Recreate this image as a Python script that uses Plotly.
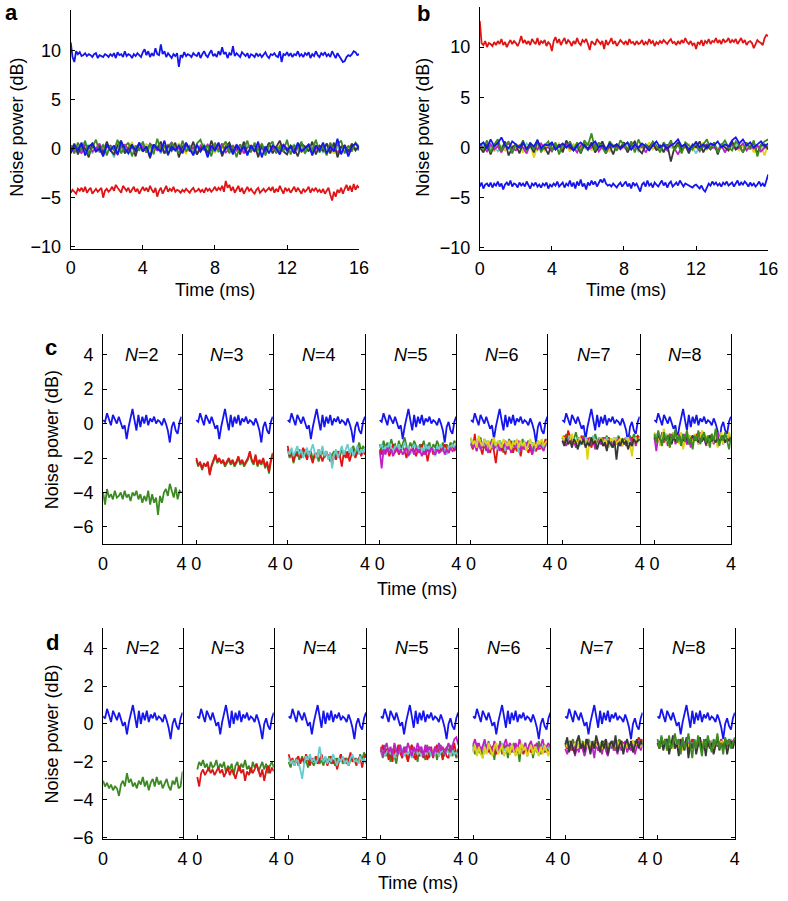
import numpy as np
import plotly.graph_objects as go

W, H = 788, 901
FONT = "Liberation Sans, Arial, Helvetica, sans-serif"
FS = 18
COL = {"b": "#1515ee", "g": "#3c8a22", "r": "#e01414", "c": "#66cccc",
       "m": "#c020c8", "y": "#dcd414", "k": "#383838"}

# ---------------- Panel a (0-16 ms) ----------------
a_blue_top = [10.8, 9.3, 8.8, 9.9, 9.6, 9.8, 9.4, 9.5, 9.7, 9.4,
              9.6, 9.5, 9.3, 9.6, 9.7, 9.2, 9.5, 9.4, 9.3, 9.6,
              9.5, 9.3, 9.6, 9.4, 9.7, 9.2, 9.8, 9.5, 9.6, 9.3,
              9.9, 9.4, 9.6, 9.5, 9.2, 9.6, 9.4, 9.7, 9.5, 9.3,
              9.8, 10.1, 9.5, 9.9, 9.3, 9.7, 9.4, 10.2, 9.6, 9.5,
              10.6, 9.6, 9.9, 9.3, 9.7, 9.5, 9.2, 9.6, 9.4, 9.7,
              8.3, 9.5, 9.3, 9.8, 9.4, 9.6, 9.5, 9.3, 9.7, 9.5,
              9.4, 9.8, 9.2, 9.6, 9.9, 9.5, 9.3, 9.7, 10.0, 9.4,
              9.6, 9.3, 9.9, 9.5, 10.3, 9.6, 9.8, 9.2, 9.7, 9.5,
              10.4, 9.4, 9.7, 9.5, 9.3, 9.8, 9.6, 9.4, 9.7, 9.2,
              9.6, 9.5, 9.3, 9.7, 9.4, 9.6, 9.3, 9.5, 9.8, 9.4,
              9.2, 9.6, 9.5, 9.7, 9.4, 9.3, 9.9, 8.8, 9.6, 9.5,
              9.8, 9.4, 9.7, 9.3, 9.6, 9.5, 9.9, 9.4, 9.6, 9.3,
              9.7, 9.5, 9.8, 9.2, 9.6, 9.4, 9.9, 9.5, 9.3, 9.7,
              9.5, 9.8, 9.4, 9.6, 9.3, 9.9, 9.5, 9.2, 9.7, 9.4,
              9.0, 8.8, 8.9, 9.3, 9.5, 9.4, 9.6, 9.9, 9.8, 9.5,
              9.6]
a_red = [-4.5, -4.2, -4.4, -4.6, -4.1, -4.3, -4.0, -4.4, -3.9, -4.5,
         -4.2, -4.0, -4.6, -4.3, -4.1, -4.4, -4.2, -4.0, -5.0, -4.3,
         -4.1, -4.4, -4.2, -3.9, -4.3, -3.7, -4.0, -4.2, -4.5, -3.8,
         -4.1, -4.3, -4.0, -4.5, -4.2, -3.9, -4.4, -4.1, -4.6, -4.2,
         -3.9, -4.3, -4.0, -4.4, -3.8, -4.2, -4.5, -4.0, -4.9, -4.3,
         -4.0, -4.6, -4.2, -3.8, -4.4, -4.1, -4.3, -3.9, -4.4, -4.2,
         -4.3, -4.5, -4.2, -4.4, -4.1, -4.3, -4.5, -4.2, -4.0, -4.4,
         -4.3, -4.1, -4.4, -4.2, -4.5, -4.0, -4.3, -4.1, -4.4, -4.2,
         -3.9, -4.3, -4.0, -4.2, -3.8, -4.4, -3.3, -4.0, -3.7, -4.3,
         -3.9, -4.5, -4.1, -3.8, -4.4, -4.0, -4.6, -4.2, -3.9, -4.3,
         -4.1, -4.4, -4.6, -4.2, -4.0, -4.5, -4.3, -4.1, -4.4, -4.2,
         -4.0, -4.3, -3.9, -4.5, -4.1, -4.4, -3.8, -4.2, -4.6, -4.0,
         -4.3, -4.1, -4.5, -4.2, -3.9, -4.4, -4.0, -4.3, -4.6, -4.1,
         -4.4, -4.2, -3.9, -4.5, -4.1, -4.3, -4.0, -4.4, -4.2, -4.5,
         -4.1, -4.6, -4.3, -4.0, -4.7, -5.3, -4.4, -4.9, -4.2, -4.5,
         -4.0, -4.6, -4.1, -3.7, -4.3, -3.8, -4.4, -3.6, -4.2, -3.8,
         -4.0]
a_g = [0.3, -0.5, 0.6, -0.2, 0.8, -0.6, 0.1, 0.9, -0.4, 0.4,
       -0.7, 0.3, -0.2, 0.9, -0.5, 0.2, 0.6, -0.8, 0.3, -0.2,
       0.7, -0.4, 0.5, -0.6, 1.0, -0.2, 0.3, -0.7, 0.6, 0.0,
       -0.5, 0.8, -0.3, 0.2, -0.6, 0.5, 0.9, -0.2, 0.3, -0.8,
       0.6, -0.3, 0.2, 0.7, -0.5, 0.3, -0.9, 0.4, 0.0, 0.8,
       -0.4, 0.6, -0.2, 0.5, -0.7, 0.3, 0.7, -0.5, 0.2, -0.3,
       0.9, -0.6, 0.3, 0.0, 0.7, -0.5, 0.4, -0.2, 0.9, -0.4,
       0.2, -0.7, 0.6, -0.2, 0.4, 0.8, -0.5, 0.3, -0.3, 0.6,
       0.2]
a_k = [-0.2, 0.5, -0.6, 0.3, 0.0, -0.9, 0.6, -0.3, 0.2, -0.5,
       0.7, -0.2, -0.6, 0.3, 0.8, -0.5, 0.0, 0.4, -0.8, 0.6,
       -0.3, 0.2, -1.0, 0.4, 0.0, 0.7, -0.5, 0.3, -0.2, 0.6,
       -0.9, 0.2, 0.5, -0.3, 0.7, -0.6, 0.0, 0.3, -0.5, 0.8,
       -0.2, 0.5, -0.8, 0.2, 0.6, -0.3, 0.3, -0.6, 0.7, -0.5,
       0.0, 0.4, -0.9, 0.3, -0.2, 0.6, -0.5, 0.2, 0.8, -0.3,
       -0.6, 0.3, 0.0, -0.8, 0.5, 0.2, -0.3, 0.7, -0.6, 0.3,
       -0.2, 0.5, -0.5, 0.6, -0.9, 0.2, 0.3, -0.3, 0.5, -0.2,
       0.3]
a_m = [0.3, -0.2, 0.1, -0.5, 0.4, 0.2, -0.3, 0.0, 0.5, -0.4,
       0.1, 0.3, -0.2, -0.6, 0.2, 0.4, -0.1, 0.3, -0.3, 0.0,
       0.2, -0.4, 0.5, 0.1, -0.2, 0.3, -0.5, 0.2, 0.6, -0.1,
       0.0, -0.3, 0.4, -0.2, 0.1, -0.6, 0.3, 0.0, 0.4, -0.2,
       0.2, -0.1, 0.5, -0.4, 0.0, 0.3, -0.2, 0.4, -0.5, 0.1,
       0.3, -0.3, 0.2, 0.0, -0.4, 0.5, -0.1, 0.2, -0.3, 0.4,
       0.0, 0.2, -0.5, 0.3, -0.2, 0.1, 0.4, -0.4, 0.0, 0.3,
       -0.2, 0.5, -0.1, 0.2, -0.4, 0.1, 0.3, -0.3, 0.2, 0.0,
       -0.1]
a_y = [-0.2, 0.4, 0.1, -0.4, 0.3, -0.1, 0.5, -0.3, 0.2, 0.0,
       -0.5, 0.3, 0.1, -0.2, 0.4, -0.4, 0.2, 0.6, -0.1, 0.1,
       -0.3, 0.5, -0.2, 0.0, 0.3, -0.4, 0.1, 0.4, -0.3, 0.2,
       0.5, -0.1, -0.5, 0.3, 0.0, 0.2, -0.3, 0.4, -0.1, 0.1,
       -0.4, 0.3, 0.0, 0.5, -0.2, -0.1, 0.4, -0.3, 0.2, -0.5,
       0.1, 0.3, -0.2, 0.5, 0.0, -0.3, 0.2, -0.4, 0.4, 0.1,
       -0.2, 0.3, -0.1, 0.5, -0.4, 0.2, 0.0, -0.3, 0.3, -0.1,
       0.4, -0.2, 0.1, -0.5, 0.3, 0.0, 0.2, -0.3, 0.5, -0.1,
       0.2]
a_c = [0.1, -0.4, 0.2, 0.0, -0.2, 0.3, -0.5, 0.1, -0.1, 0.4,
       -0.3, 0.0, -0.9, 0.2, -0.1, 0.3, -0.4, 0.1, 0.0, -0.2,
       0.4, -0.3, 0.1, -0.1, 0.2, -0.5, 0.3, 0.0, -0.2, 0.1,
       -0.4, 0.2, 0.0, 0.3, -0.3, 0.1, -0.1, 0.4, -0.2, 0.0,
       0.2, -0.4, 0.3, -0.1, 0.1, -0.3, 0.0, 0.2, -0.2, 0.4,
       -0.1, 0.0, -0.5, 0.2, 0.1, -0.2, 0.3, -0.4, 0.0, 0.2,
       -0.3, 0.1, 0.4, -0.2, 0.0, -0.5, 0.2, 0.1, -0.1, 0.3,
       -0.4, 0.0, 0.2, -0.2, 0.1, -0.3, 0.3, -0.6, 0.1, 0.0,
       -0.2]
a_b = [-0.5, 0.3, -0.2, 0.6, -0.7, 0.2, 0.5, -0.3, 0.0, -0.8,
       0.4, -0.2, 0.3, -0.6, 0.7, 0.0, -0.5, 0.3, -0.2, 0.6,
       -0.3, 0.2, -0.8, 0.4, 0.0, -0.3, 0.8, -0.6, 0.2, -0.2,
       0.3, -0.5, 0.6, 0.0, -0.7, 0.4, -0.3, 0.2, -0.9, 0.3,
       -0.2, 0.6, -0.5, 0.0, 0.3, -0.6, 0.4, -0.2, 0.2, -0.7,
       0.3, -0.3, 0.7, -0.9, 0.2, -0.5, 0.3, 0.0, -0.6, 0.4,
       -0.2, 0.2, -0.5, 0.6, -0.3, 0.0, 0.4, -0.7, 0.3, -0.2,
       0.6, -0.5, 0.2, -0.3, 1.0, -0.6, 0.3, -0.8, 0.2, 0.5,
       0.0]

# ---------------- Panel b (0-16 ms) ----------------
b_red_top = [12.6, 10.4, 10.2, 10.6, 10.0, 10.4, 10.3, 10.1, 10.5, 10.2,
             10.6, 10.3, 10.8, 10.2, 10.5, 10.0, 10.4, 10.7, 10.3, 10.6,
             10.4, 10.1, 10.5, 11.1, 10.4, 10.7, 10.3, 10.6, 10.2, 10.8,
             10.5, 10.3, 10.9, 10.2, 10.6, 10.4, 10.7, 10.1, 10.5, 10.3,
             9.6, 10.6, 11.0, 10.4, 10.8, 10.2, 10.6, 10.9, 10.3, 10.7,
             10.5, 10.1, 10.6, 10.3, 10.9, 10.4, 10.2, 10.7, 10.5, 10.8,
             10.3, 9.7, 10.6, 10.4, 10.2, 10.8, 10.5, 10.3, 10.6, 9.8,
             10.7, 10.2, 10.5, 10.9, 10.3, 10.6, 10.1, 10.4, 10.7, 10.5,
             10.3, 10.6, 10.2, 10.8, 10.4, 10.5, 10.2, 10.6, 10.3, 10.4,
             10.7, 10.2, 10.5, 10.3, 10.8, 10.4, 10.6, 10.1, 10.5, 10.3,
             10.6, 10.4, 10.7, 10.5, 10.3, 10.6, 10.8, 10.4, 10.5, 10.2,
             10.6, 10.3, 10.7, 10.4, 10.9, 10.5, 10.3, 10.6, 10.2, 10.4,
             9.8, 10.5, 10.3, 10.7, 10.1, 10.6, 10.4, 10.8, 10.3, 10.6,
             10.5, 10.9, 10.4, 10.7, 10.3, 10.8, 10.5, 10.6, 10.9, 10.4,
             10.7, 10.5, 10.8, 10.3, 10.6, 10.9, 10.4, 10.7, 10.2, 10.5,
             10.6, 10.4, 9.9, 10.3, 10.7, 10.5, 10.4, 10.2, 10.9, 11.2,
             11.1]
b_blue_low = [-3.9, -3.5, -4.1, -3.7, -3.6, -3.9, -3.5, -4.0, -3.6, -3.8,
              -3.4, -3.9, -3.6, -4.2, -3.7, -3.5, -3.8, -3.3, -3.9, -3.6,
              -3.7, -4.0, -3.5, -3.8, -3.6, -3.9, -3.4, -3.7, -4.1, -3.6,
              -3.8, -3.5, -3.9, -3.7, -4.0, -3.6, -3.8, -3.5, -4.1, -3.7,
              -3.9, -3.6, -3.8, -3.4, -3.9, -3.7, -3.5, -4.0, -3.6, -3.8,
              -3.3, -3.9, -3.5, -4.1, -3.4, -3.8, -3.2, -3.9, -3.6, -4.2,
              -3.5, -3.8, -3.3, -3.7, -3.4, -3.9, -3.6, -3.2, -3.5, -3.1,
              -3.6, -3.8, -3.7, -3.9, -3.6, -3.8, -4.0, -3.7, -3.5, -3.9,
              -3.6, -3.4, -3.9, -3.6, -4.1, -3.5, -3.8, -3.6, -4.0, -4.4,
              -3.7, -3.5, -3.9, -3.3, -3.8, -3.6, -4.0, -3.5, -3.7, -3.9,
              -3.6, -3.3, -3.8, -3.5, -4.0, -3.6, -3.4, -3.9, -3.7, -3.5,
              -3.8, -3.3, -3.6, -3.9, -3.6, -3.7, -3.8, -3.9, -4.0, -3.8,
              -3.7, -3.9, -4.1, -3.8, -4.2, -4.4, -3.9, -3.6, -3.8, -3.4,
              -3.7, -3.5, -3.8, -3.6, -3.9, -3.5, -3.7, -3.4, -3.8, -3.6,
              -3.5, -3.9, -3.6, -3.3, -3.8, -3.5, -3.7, -3.4, -3.6, -3.9,
              -3.5, -3.8, -3.6, -3.9, -3.7, -3.4, -3.8, -3.6, -3.9, -3.2,
              -2.7]
b_g = [0.4, -0.2, 0.7, -0.5, 0.3, 0.8, -0.3, 0.2, 0.6, -0.6,
       0.3, 0.0, 0.7, -0.3, 0.5, -0.2, 0.8, -0.5, 0.2, 0.6,
       -0.3, 0.5, -0.7, 0.3, 0.0, 0.6, -0.2, 0.5, -0.5, 0.7,
       0.2, 1.4, -0.3, 0.5, 0.0, -0.6, 0.6, 0.2, -0.3, 0.7,
       0.3, -0.2, 0.6, -0.5, 0.8, 0.0, 0.3, -0.3, 0.6, 0.2,
       -0.5, 0.5, 0.0, 0.7, -0.3, 0.3, -0.6, 0.5, 0.2, -0.2,
       0.6, -0.3, 0.3, 0.8, -0.2, 0.5, -0.5, 0.2, 0.7, 0.0,
       -0.3, 0.6, 0.2, -0.5, 0.5, -0.2, 0.7, -0.9, 0.3, 0.6,
       0.8]
b_k = [0.0, -0.5, 0.3, -0.7, 0.2, 0.5, -0.3, 0.6, -0.8, 0.0,
       0.3, -0.6, 0.5, -0.2, 0.2, -0.5, 0.6, -0.3, 0.0, -0.7,
       0.5, -0.2, 0.3, -0.5, 0.7, 0.0, -0.3, 0.2, -0.6, 0.3,
       -0.2, 0.5, -0.5, 0.0, 0.6, -0.3, 0.2, -0.7, 0.3, 0.0,
       0.5, -0.5, 0.2, 0.6, -0.2, -0.6, 0.3, 0.0, 0.5, -0.3,
       0.2, -0.5, 0.3, -1.4, 0.0, 0.5, -0.3, 0.2, -0.6, 0.3,
       0.0, 0.6, -0.5, 0.2, -0.2, 0.5, -0.7, 0.3, 0.0, -0.3,
       0.6, -0.2, 0.2, -0.5, 0.3, 0.0, 0.5, -0.6, 0.2, 0.3,
       -0.2]
b_m = [0.2, 0.0, -0.4, 0.3, -0.2, 0.1, -0.5, 0.2, 0.4, -0.1,
       -0.3, 0.2, 0.0, -0.6, 0.3, 0.1, -0.2, 0.4, -0.1, 0.0,
       -0.4, 0.2, 0.1, -0.3, 0.3, -0.1, 0.0, -0.5, 0.2, 0.4,
       -0.2, 0.0, 0.3, -0.4, 0.1, -0.6, 0.2, 0.0, 0.3, -0.2,
       0.1, -0.4, 0.3, 0.0, -0.1, 0.2, -0.5, 0.1, 0.3, -0.2,
       0.0, 0.2, -0.3, 0.4, -0.1, -0.7, 0.1, 0.3, -0.2, 0.0,
       0.2, -0.4, 0.1, 0.3, -0.1, 0.0, -0.3, 0.2, -0.5, 0.1,
       0.3, -0.2, 0.0, 0.4, -0.3, 0.1, -0.1, 0.2, -0.4, 0.0,
       0.1]
b_y = [0.4, -0.2, 0.1, 0.3, -0.4, 0.2, 0.0, -0.3, 0.5, 0.1,
       -0.2, 0.3, -0.5, 0.0, 0.4, -1.0, 0.2, 0.1, -0.3, 0.3,
       0.0, -0.2, 0.4, -0.1, 0.2, -0.4, 0.3, 0.1, -0.2, 0.0,
       0.5, -0.3, 0.2, -0.1, 0.3, 0.0, -0.4, 0.2, 0.1, -0.2,
       0.4, -0.1, 0.0, 0.3, -0.3, 0.2, -0.1, 0.5, -0.2, 0.1,
       -0.4, 0.3, 0.0, 0.2, -0.2, 0.4, -0.1, 0.0, 0.3, -0.3,
       0.1, -0.1, 0.5, -0.2, 0.2, 0.0, -0.4, 0.3, 0.1, -0.2,
       0.4, 0.0, -0.3, 0.2, -0.1, 0.3, -0.5, 0.1, 0.2, -0.8,
       0.3]
b_c = [0.1, 0.3, -0.2, 0.0, 0.2, -0.4, 0.1, 0.3, -0.1, -0.3,
       0.2, 0.0, -0.2, 0.4, -0.1, 0.1, -0.3, 0.2, 0.0, 0.3,
       -0.2, 0.1, -0.4, 0.2, 0.0, -0.1, 0.3, -0.2, 0.1, 0.0,
       -0.3, 0.2, 0.1, -0.2, 0.4, 0.0, -0.1, 0.2, -0.3, 0.1,
       0.0, 0.3, -0.2, 0.1, -0.4, 0.2, 0.0, -0.1, 0.3, -0.2,
       0.1, -0.3, 0.2, 0.0, -0.1, 0.4, -0.2, 0.1, -0.3, 0.0,
       -0.6, 0.2, 0.1, -0.2, 0.3, 0.0, -0.1, 0.2, -0.4, 0.1,
       0.0, 0.3, -0.2, 0.1, -0.1, 0.2, -0.3, 0.0, 0.2, -0.1,
       0.0]
b_b = [0.2, 0.5, -0.1, 0.8, 0.1, 0.4, 1.0, 0.2, -0.1, 0.6,
       0.3, 0.0, 0.5, -0.2, 0.4, 0.1, 0.7, -0.1, 0.3, 0.2,
       0.5, -0.2, 0.1, 0.4, 0.0, 0.3, -0.3, 0.2, 0.5, 0.1,
       -0.1, 0.3, 0.6, 0.0, 0.2, -0.2, 0.4, 0.1, 0.3, -0.1,
       0.2, 0.5, -0.2, 0.3, 0.0, 0.4, 0.1, -0.3, 0.2, 0.6,
       0.0, 0.3, -0.1, 0.2, 0.4, 0.8, 0.1, 0.3, -0.2, 0.2,
       0.5, 0.0, 0.3, -0.1, 0.4, 0.2, 0.6, 0.0, 0.3, 0.1,
       0.7, 1.0, 0.4, 0.8, 0.2, 0.5, 0.0, 0.3, 0.6, 0.1,
       0.4]

# ---------------- Panel c (0-4 ms per N) ----------------
c_blue = [0.2, 0.1, 0.6, 0.3, -0.1, 0.5, 0.2, 0.0, 0.4, 0.1,
          -0.3, -0.1, -0.9, -0.2, 0.3, 0.85, 0.2, -0.4, 0.5, -0.2,
          0.4, 0.0, 0.5, -0.1, 0.3, 0.1, 0.4, 0.0, 0.2, 0.1,
          -0.1, 0.3, 0.0, -0.4, -1.1, -0.2, 0.1, -0.4, -0.6, 0.1,
          0.4]
c2_g = [-4.0, -4.7, -3.8, -4.3, -4.1, -4.4, -3.9, -4.3, -4.2, -4.0,
        -4.4, -3.9, -4.3, -4.1, -4.5, -4.0, -4.2, -3.9, -4.4, -4.1,
        -4.6, -4.2, -4.5, -3.9, -4.7, -4.1, -4.6, -4.3, -5.3, -4.2,
        -4.6, -4.0, -3.8, -4.2, -3.5, -3.9, -4.3, -3.7, -4.4, -3.9,
        -4.0]
c3_g = [-2.1, -2.5, -2.2, -2.7, -2.4, -2.4, -2.3, -2.9, -2.5, -2.2,
        -1.9, -2.3, -2.1, -2.3, -2.2, -2.5, -2.3, -2.1, -2.4, -2.2,
        -2.5, -2.3, -2.0, -2.4, -2.2, -2.5, -2.3, -2.1, -1.7, -2.2,
        -2.4, -1.9, -2.5, -2.2, -2.4, -2.1, -2.6, -2.3, -2.9, -2.2,
        -1.8]
c3_r = [-2.0, -2.4, -2.3, -2.6, -2.3, -2.5, -2.2, -3.0, -2.4, -2.1,
        -1.8, -2.2, -2.0, -2.3, -2.1, -2.4, -2.2, -2.0, -2.3, -2.1,
        -2.4, -2.2, -1.9, -2.3, -2.1, -2.4, -2.2, -2.0, -1.6, -2.1,
        -2.3, -1.8, -2.4, -2.1, -2.3, -2.0, -2.5, -2.2, -2.8, -2.1,
        -1.7]
c4_g = [-1.5, -2.0, -1.7, -2.3, -1.8, -1.6, -2.1, -1.7, -1.9, -1.5,
        -2.0, -1.8, -1.6, -2.1, -1.9, -1.7, -2.2, -1.8, -1.6, -2.0,
        -1.7, -1.9, -2.2, -1.8, -1.6, -2.0, -1.7, -1.9, -1.5, -1.8,
        -1.6, -2.0, -1.7, -1.5, -1.3, -1.8, -1.4, -1.1, -1.6, -1.3,
        -1.5]
c4_r = [-1.3, -1.9, -1.6, -2.2, -1.7, -1.9, -1.5, -2.0, -1.4, -1.8,
        -2.1, -1.6, -1.9, -2.3, -1.7, -2.0, -1.5, -1.9, -2.2, -1.8,
        -1.6, -2.0, -1.7, -2.4, -1.8, -2.1, -1.6, -1.9, -2.5, -1.7,
        -2.0, -1.6, -2.2, -1.8, -1.5, -2.0, -1.7, -1.4, -1.9, -1.6,
        -1.8]
c4_c = [-1.6, -1.8, -1.4, -1.9, -1.6, -1.3, -1.8, -1.5, -2.0, -1.7,
        -1.4, -1.9, -1.6, -1.2, -1.7, -2.0, -1.5, -1.8, -1.3, -1.9,
        -1.6, -2.1, -1.7, -2.6, -1.8, -1.5, -2.0, -1.6, -1.3, -1.8,
        -1.5, -1.2, -1.7, -1.4, -1.9, -1.6, -1.3, -1.8, -1.5, -1.7,
        -1.4]
c5_g = [-1.2, -1.6, -1.0, -1.4, -1.1, -1.5, -0.9, -1.3, -1.2, -1.6,
        -1.0, -1.4, -1.2, -0.8, -1.3, -1.5, -1.1, -1.4, -1.0, -1.3,
        -1.6, -1.2, -1.4, -1.0, -1.5, -1.3, -1.1, -1.6, -1.2, -1.4,
        -1.0, -1.3, -1.5, -1.1, -1.4, -1.2, -1.5, -1.1, -1.3, -1.0,
        -1.2]
c5_r = [-1.5, -1.8, -1.3, -1.7, -1.4, -1.9, -1.5, -1.2, -1.7, -1.4,
        -1.8, -1.5, -1.3, -1.6, -2.0, -1.4, -1.7, -1.3, -1.6, -1.9,
        -1.5, -1.7, -1.2, -1.8, -1.5, -2.2, -1.6, -1.4, -1.8, -1.5,
        -1.3, -1.7, -1.4, -1.6, -1.2, -1.5, -1.7, -1.4, -1.3, -1.6,
        -1.4]
c5_c = [-1.4, -1.2, -1.6, -1.3, -1.5, -1.1, -1.4, -1.7, -1.3, -1.5,
        -1.2, -1.6, -1.4, -1.1, -1.5, -1.3, -1.8, -1.4, -1.2, -1.5,
        -1.3, -1.6, -1.4, -1.7, -1.2, -1.5, -1.3, -1.6, -1.4, -1.9,
        -1.3, -1.5, -1.2, -1.6, -1.4, -1.8, -1.3, -1.5, -1.2, -1.4,
        -1.1]
c5_m = [-1.6, -2.6, -1.5, -1.8, -1.4, -1.7, -1.5, -1.9, -1.6, -1.4,
        -1.7, -1.5, -1.8, -1.6, -1.4, -1.9, -1.6, -1.5, -1.8, -1.4,
        -1.7, -1.5, -1.9, -1.6, -1.8, -1.5, -1.7, -1.4, -1.6, -1.8,
        -1.5, -1.7, -1.6, -1.4, -1.8, -1.5, -1.7, -1.4, -1.6, -1.5,
        -1.3]
c6_g = [-0.9, -1.3, -1.0, -1.5, -1.1, -0.8, -1.4, -1.2, -1.6, -1.0,
        -1.3, -0.9, -1.5, -1.1, -1.4, -1.0, -1.2, -1.7, -1.1, -1.3,
        -0.9, -1.4, -1.2, -1.0, -1.5, -1.1, -1.3, -0.9, -1.4, -1.2,
        -1.0, -1.5, -1.1, -1.3, -1.6, -1.0, -1.2, -1.4, -1.1, -1.3,
        -1.0]
c6_r = [-1.2, -1.5, -0.6, -1.6, -1.0, -1.4, -1.8, -1.1, -1.5, -1.3,
        -1.7, -1.2, -1.6, -2.3, -1.4, -1.1, -1.6, -1.3, -1.8, -1.2,
        -1.5, -1.0, -1.7, -1.3, -1.6, -1.4, -1.9, -1.2, -1.5, -1.3,
        -1.7, -1.4, -1.8, -1.2, -1.6, -1.3, -1.5, -1.0, -1.3, -0.9,
        -1.1]
c6_c = [-1.3, -1.0, -1.4, -1.2, -0.9, -1.5, -1.1, -1.3, -1.0, -1.6,
        -1.2, -1.4, -1.1, -1.3, -1.5, -1.0, -1.4, -1.2, -1.6, -1.1,
        -1.3, -1.5, -1.0, -1.4, -1.2, -1.7, -1.1, -1.3, -1.0, -1.5,
        -1.2, -1.4, -1.1, -1.6, -1.3, -1.0, -1.4, -1.2, -1.5, -1.1,
        -1.3]
c6_m = [-1.1, -1.4, -1.2, -1.6, -1.0, -1.5, -1.3, -0.9, -1.4, -1.7,
        -1.2, -1.0, -1.5, -1.3, -1.1, -1.6, -1.2, -1.4, -1.0, -1.5,
        -1.3, -1.7, -1.1, -1.4, -1.2, -1.0, -1.6, -1.3, -1.5, -1.1,
        -1.4, -1.2, -1.8, -1.3, -1.1, -1.5, -1.2, -1.4, -1.6, -1.2,
        -1.0]
c6_y = [-0.8, -1.2, -1.0, -1.4, -0.7, -1.1, -1.3, -0.9, -1.2, -1.0,
        -1.5, -1.1, -0.8, -1.3, -1.0, -1.2, -1.4, -0.9, -1.1, -1.3,
        -1.0, -1.5, -1.1, -1.2, -0.9, -1.4, -1.0, -1.3, -1.1, -1.6,
        -1.2, -0.9, -1.3, -1.1, -1.4, -1.0, -1.2, -0.9, -1.3, -1.1,
        -1.0]
c7_g = [-0.8, -1.1, -0.6, -1.0, -0.7, -1.2, -0.9, -0.5, -1.0, -0.8,
        -1.2, -0.7, -1.0, -0.9, -1.3, -0.8, -1.1, -0.6, -1.0, -0.9,
        -1.2, -0.8, -1.0, -0.7, -1.3, -0.9, -1.1, -0.8, -1.2, -0.7,
        -1.0, -0.9, -1.2, -0.8, -1.1, -0.7, -1.0, -0.6, -0.9, -0.7,
        -0.8]
c7_r = [-0.9, -0.7, -1.2, -0.4, -0.8, -1.1, -0.9, -1.3, -0.8, -1.0,
        -0.7, -1.2, -0.9, -1.1, -0.8, -1.4, -1.0, -0.9, -1.2, -0.8,
        -1.1, -0.9, -1.3, -1.0, -0.8, -1.2, -0.9, -1.1, -1.0, -0.8,
        -1.2, -1.0, -0.9, -1.3, -1.0, -1.2, -0.8, -1.1, -0.9, -0.7,
        -1.0]
c7_c = [-1.0, -0.8, -1.1, -0.9, -0.7, -1.2, -0.9, -1.0, -0.8, -1.3,
        -0.9, -1.1, -0.8, -1.0, -1.2, -0.9, -0.7, -1.1, -1.0, -0.8,
        -1.2, -0.9, -1.1, -0.8, -1.0, -1.3, -0.9, -1.1, -0.8, -1.0,
        -0.9, -1.2, -1.0, -0.8, -1.1, -0.9, -1.3, -1.0, -0.8, -1.1,
        -0.9]
c7_m = [-1.1, -0.9, -1.3, -1.0, -0.8, -1.2, -1.0, -1.4, -0.9, -1.1,
        -1.0, -0.8, -1.3, -1.1, -0.9, -1.2, -1.0, -1.5, -1.1, -0.9,
        -1.2, -1.0, -0.8, -1.3, -1.1, -0.9, -1.4, -1.0, -1.2, -0.9,
        -1.1, -1.3, -0.9, -1.2, -1.0, -0.8, -1.1, -1.0, -1.3, -0.9,
        -1.0]
c7_y = [-0.7, -1.0, -0.8, -1.2, -0.9, -0.6, -1.1, -0.9, -1.3, -0.8,
        -1.0, -1.2, -0.9, -2.1, -1.0, -0.8, -1.1, -0.9, -1.3, -1.0,
        -0.8, -1.2, -0.9, -1.1, -1.4, -0.9, -1.0, -0.8, -1.2, -1.0,
        -0.9, -1.3, -1.0, -1.1, -0.8, -1.2, -1.9, -1.0, -0.9, -1.1,
        -0.8]
c7_k = [-1.0, -1.3, -0.8, -1.2, -1.0, -1.4, -0.9, -1.1, -1.5, -1.0,
        -1.2, -0.9, -1.4, -1.1, -1.3, -0.8, -1.2, -1.0, -1.5, -1.1,
        -0.9, -1.3, -1.1, -1.6, -1.0, -1.2, -1.4, -1.0, -2.1, -1.1,
        -1.3, -0.9, -1.2, -1.0, -1.5, -1.1, -1.3, -0.9, -1.1, -1.0,
        -0.9]
c8_r = [-0.7, -1.0, -0.6, -0.9, -0.8, -1.1, -0.7, -0.9, -0.6, -1.0,
        -0.8, -0.7, -1.1, -0.9, -0.6, -1.0, -0.8, -1.2, -0.7, -0.9,
        -0.8, -1.0, -0.6, -0.9, -1.1, -0.7, -0.9, -0.8, -1.0, -0.7,
        -0.9, -1.1, -0.8, -0.6, -1.0, -0.8, -0.9, -0.7, -1.0, -0.8,
        -0.9]
c8_c = [-0.8, -0.6, -0.9, -0.7, -1.0, -0.8, -0.6, -0.9, -0.7, -1.1,
        -0.8, -1.0, -0.7, -0.9, -0.8, -0.6, -1.0, -0.8, -0.9, -0.7,
        -1.1, -0.8, -0.9, -0.7, -1.0, -0.8, -0.6, -0.9, -0.7, -1.0,
        -0.8, -0.9, -0.7, -1.1, -0.8, -1.0, -0.7, -0.9, -0.8, -0.6,
        -0.8]
c8_m = [-0.8, -1.6, -0.7, -1.2, -0.5, -1.0, -0.8, -1.3, -0.6, -1.0,
        -0.5, -1.2, -0.9, -0.6, -1.3, -1.0, -0.6, -1.2, -0.8, -1.4,
        -0.7, -1.0, -0.8, -1.2, -0.5, -1.0, -0.7, -1.3, -0.8, -1.1,
        -0.6, -1.2, -0.9, -0.5, -1.1, -0.7, -1.2, -0.8, -1.0, -0.6,
        -1.0]
c8_y = [-0.5, -0.9, -0.6, -1.3, -0.8, -0.3, -1.1, -0.6, -1.4, -0.9,
        -0.5, -1.0, -0.7, -1.2, -0.5, -1.5, -0.9, -0.4, -1.0, -0.7,
        -1.3, -0.6, -0.9, -1.2, -0.7, -0.4, -1.0, -0.7, -1.3, -0.9,
        -0.6, -1.1, -0.7, -1.4, -0.9, -0.5, -1.2, -0.7, -1.0, -0.5,
        -0.9]
c8_k = [-0.8, -1.0, -0.7, -0.9, -1.1, -0.8, -1.0, -0.7, -0.9, -1.2,
        -0.8, -1.0, -0.9, -0.7, -1.1, -0.9, -1.0, -0.8, -1.2, -0.9,
        -0.7, -1.0, -0.8, -1.1, -0.9, -1.0, -0.8, -1.2, -0.9, -0.7,
        -1.0, -0.9, -1.1, -0.8, -1.0, -0.9, -0.7, -1.1, -0.9, -1.0,
        -0.8]
c8_g = [-0.6, -1.1, -0.4, -0.9, -1.3, -0.5, -1.0, -0.7, -1.4, -0.6,
        -0.9, -0.3, -1.1, -0.7, -1.3, -0.6, -1.0, -0.4, -1.2, -0.8,
        -1.5, -0.7, -1.0, -0.4, -1.2, -0.8, -0.5, -1.1, -0.7, -1.4,
        -0.6, -1.0, -0.3, -0.9, -1.3, -0.7, -1.0, -0.5, -1.1, -1.5,
        -0.8]

# ---------------- Panel d (0-4 ms per N) ----------------
d_blue = [0.4, 0.3, 0.8, 0.5, 0.1, 0.7, 0.4, 0.2, 0.6, 0.3,
          -0.1, 0.1, -0.55, 0.1, 0.5, 1.0, 0.4, -0.2, 0.7, 0.0,
          0.6, 0.2, 0.7, 0.1, 0.5, 0.3, 0.6, 0.2, 0.4, 0.3,
          0.1, 0.5, 0.2, -0.2, -0.8, 0.0, 0.3, -0.1, -0.3, 0.3,
          0.6]
d2_g = [-3.0, -3.3, -3.1, -3.4, -3.2, -3.5, -3.3, -3.4, -3.8, -3.2,
        -3.0, -3.3, -2.6, -3.1, -2.9, -3.3, -3.1, -3.4, -3.0, -3.2,
        -2.8, -3.3, -3.0, -3.5, -3.1, -2.9, -3.3, -2.8, -3.2, -3.0,
        -3.4, -3.1, -2.9, -3.3, -3.5, -3.0, -3.2, -2.8, -3.4, -3.3,
        -2.5]
d3_g = [-2.4, -2.0, -2.2, -1.9, -2.3, -2.1, -2.5, -2.0, -2.3, -2.2,
        -1.9, -2.4, -2.1, -2.3, -2.0, -2.6, -2.2, -2.4, -2.1, -2.7,
        -2.2, -2.0, -2.5, -2.1, -2.3, -1.9, -2.4, -2.2, -2.6, -2.0,
        -2.3, -2.1, -2.5, -2.2, -2.0, -2.4, -2.1, -2.6, -2.2, -2.0,
        -2.3]
d3_r = [-2.8, -3.3, -2.6, -2.4, -2.7, -2.5, -2.3, -2.6, -2.4, -2.7,
        -2.5, -2.3, -2.6, -2.4, -2.8, -2.5, -2.3, -2.7, -2.4, -2.6,
        -2.9, -2.5, -2.2, -2.6, -2.4, -3.0, -2.5, -2.7, -2.3, -2.6,
        -2.4, -2.1, -2.5, -2.8, -2.4, -3.0, -2.5, -2.2, -2.6, -2.3,
        -2.5]
d4_r = [-1.6, -2.0, -1.8, -2.2, -1.9, -1.7, -2.1, -1.8, -2.0, -1.6,
        -1.9, -2.2, -1.8, -2.0, -1.7, -2.1, -1.9, -1.6, -2.0, -1.8,
        -2.2, -1.9, -1.7, -2.1, -1.8, -2.4, -1.9, -1.6, -2.0, -1.8,
        -2.1, -1.9, -1.5, -2.0, -1.8, -2.2, -1.9, -1.7, -2.3, -1.8,
        -1.6]
d4_g = [-2.0, -2.3, -1.9, -2.1, -1.8, -2.2, -2.0, -1.7, -2.1, -1.9,
        -2.3, -1.8, -2.0, -2.2, -1.9, -1.7, -2.1, -1.9, -2.2, -1.8,
        -2.0, -1.7, -2.1, -1.9, -2.2, -1.8, -2.0, -1.6, -2.1, -1.9,
        -1.8, -2.2, -1.9, -1.7, -2.0, -1.8, -2.1, -1.6, -1.9, -1.5,
        -1.8]
d4_c = [-1.8, -2.1, -1.9, -2.2, -1.9, -2.0, -2.4, -2.9, -2.1, -1.7,
        -1.9, -1.6, -2.0, -1.8, -2.1, -1.9, -1.2, -1.8, -2.0, -1.7,
        -2.1, -1.8, -2.0, -1.6, -1.9, -2.2, -1.8, -2.0, -1.7, -2.1,
        -1.9, -2.2, -1.8, -1.6, -2.0, -1.9, -2.1, -1.7, -2.0, -1.8,
        -2.1]
d5_g = [-1.3, -1.8, -1.1, -1.7, -1.4, -2.0, -1.3, -1.7, -2.1, -1.4,
        -1.1, -1.8, -1.4, -1.2, -1.9, -1.6, -1.1, -1.8, -1.4, -2.0,
        -1.2, -1.7, -1.4, -1.9, -1.1, -1.8, -1.4, -1.6, -1.2, -1.9,
        -1.4, -1.1, -1.8, -1.6, -1.2, -1.5, -1.1, -1.7, -1.4, -1.8,
        -1.6]
d5_r = [-1.5, -1.1, -1.7, -1.3, -1.9, -1.4, -2.0, -1.3, -1.7, -1.1,
        -1.5, -1.8, -1.3, -1.7, -2.0, -1.4, -1.1, -1.6, -1.9, -1.3,
        -1.7, -1.4, -1.8, -1.2, -1.9, -1.6, -1.2, -1.8, -1.4, -1.1,
        -1.7, -1.4, -1.9, -1.3, -1.7, -1.8, -1.2, -1.5, -1.0, -1.7,
        -1.3]
d5_c = [-1.6, -1.4, -1.7, -1.5, -1.3, -1.6, -1.4, -1.8, -1.5, -1.6,
        -1.4, -1.3, -1.7, -1.5, -1.6, -1.4, -1.8, -1.5, -1.3, -1.6,
        -1.5, -1.7, -1.4, -1.6, -1.5, -1.3, -1.7, -1.5, -1.6, -1.4,
        -1.7, -1.5, -1.3, -1.6, -1.4, -1.5, -1.7, -1.4, -1.6, -1.5,
        -1.7]
d5_m = [-1.2, -1.7, -1.3, -1.0, -1.5, -1.2, -1.7, -1.0, -1.4, -1.6,
        -1.1, -1.7, -1.2, -1.5, -1.0, -1.4, -1.7, -1.2, -1.5, -1.0,
        -1.4, -1.2, -1.7, -1.1, -1.5, -1.2, -1.4, -1.7, -1.2, -1.5,
        -1.0, -1.4, -1.2, -1.6, -1.3, -1.0, -1.5, -1.2, -0.8, -0.7,
        -1.1]
d6_g = [-1.1, -1.6, -1.0, -1.5, -1.2, -1.8, -1.1, -1.5, -0.9, -1.6,
        -1.2, -1.9, -1.1, -1.5, -0.9, -1.6, -1.3, -1.1, -1.8, -1.2,
        -1.5, -1.0, -1.6, -1.2, -2.0, -1.1, -1.5, -1.0, -1.7, -1.3,
        -1.1, -1.8, -1.2, -1.5, -0.9, -1.6, -1.2, -1.1, -1.5, -1.3,
        -1.1]
d6_r = [-1.4, -1.2, -1.5, -1.3, -1.6, -1.2, -1.4, -1.1, -1.5, -1.3,
        -1.2, -1.4, -1.6, -1.3, -1.1, -1.5, -1.2, -1.4, -1.3, -1.6,
        -1.2, -1.4, -1.1, -1.5, -1.3, -1.2, -1.6, -1.3, -1.4, -1.2,
        -1.5, -1.3, -1.1, -1.4, -1.6, -1.2, -1.3, -1.5, -1.2, -1.4,
        -1.3]
d6_c = [-1.3, -1.1, -1.4, -1.2, -1.5, -1.3, -1.0, -1.4, -1.2, -1.3,
        -1.5, -1.1, -1.3, -1.4, -1.2, -1.0, -1.4, -1.3, -1.5, -1.1,
        -1.3, -1.2, -1.4, -1.1, -1.3, -1.5, -1.2, -1.0, -1.4, -1.2,
        -1.3, -1.1, -1.4, -1.2, -1.5, -1.3, -1.1, -1.4, -1.2, -1.3,
        -1.4]
d6_m = [-1.1, -0.8, -1.3, -1.0, -1.5, -1.1, -0.8, -1.4, -1.0, -1.2,
        -1.5, -0.9, -1.2, -1.4, -1.0, -1.5, -1.1, -0.8, -1.3, -1.0,
        -1.2, -1.5, -1.0, -1.4, -0.8, -1.2, -1.4, -1.0, -1.5, -1.1,
        -0.9, -1.4, -1.2, -1.0, -1.5, -1.1, -0.8, -1.3, -1.2, -1.0,
        -1.3]
d6_y = [-1.5, -1.1, -1.7, -1.2, -1.6, -1.8, -1.2, -1.6, -1.0, -1.4,
        -1.7, -1.2, -1.0, -1.6, -1.4, -1.1, -1.7, -1.4, -1.2, -1.6,
        -1.1, -1.4, -1.7, -1.2, -1.6, -1.0, -1.4, -1.2, -1.7, -1.4,
        -1.1, -1.6, -1.2, -1.4, -1.7, -1.2, -1.6, -1.1, -1.4, -1.7,
        -1.2]
d7_g = [-1.0, -1.2, -0.9, -1.1, -0.8, -1.2, -1.0, -0.7, -1.1, -0.9,
        -1.2, -1.0, -0.8, -1.1, -1.3, -0.9, -1.1, -1.0, -1.2, -0.9,
        -1.1, -0.8, -1.2, -1.0, -1.3, -0.9, -1.1, -1.0, -0.8, -1.2,
        -1.0, -1.1, -0.9, -1.3, -1.0, -1.2, -0.9, -1.1, -1.0, -0.8,
        -1.0]
d7_r = [-1.1, -1.3, -1.0, -1.2, -1.4, -1.1, -0.9, -1.2, -1.0, -1.3,
        -1.1, -0.8, -1.2, -1.0, -1.3, -1.1, -1.0, -1.4, -1.1, -1.2,
        -0.9, -1.1, -1.3, -1.0, -1.2, -1.1, -1.4, -1.0, -1.2, -0.9,
        -1.1, -1.3, -1.0, -1.2, -1.1, -0.9, -1.2, -1.0, -0.7, -1.0,
        -0.8]
d7_c = [-0.9, -1.1, -1.2, -1.0, -1.3, -1.1, -0.9, -1.2, -1.0, -1.1,
        -1.3, -1.0, -1.2, -0.9, -1.1, -1.2, -1.0, -1.3, -1.1, -0.9,
        -1.2, -1.0, -1.1, -1.3, -1.0, -1.2, -0.9, -1.1, -1.4, -1.0,
        -1.2, -1.1, -0.9, -1.3, -1.1, -1.0, -1.2, -1.1, -0.9, -1.1,
        -1.0]
d7_m = [-1.3, -1.6, -1.1, -1.4, -0.9, -1.7, -1.2, -1.5, -1.0, -1.4,
        -1.7, -1.2, -0.9, -1.5, -1.2, -1.8, -1.0, -1.4, -1.2, -1.6,
        -1.0, -1.4, -1.7, -1.2, -0.9, -1.4, -1.2, -1.6, -1.0, -1.4,
        -1.2, -0.9, -1.5, -1.2, -1.4, -1.0, -1.6, -1.2, -0.9, -1.4,
        -1.1]
d7_y = [-1.0, -1.2, -1.1, -0.9, -1.2, -1.0, -1.3, -1.1, -0.9, -1.2,
        -1.0, -1.1, -1.3, -1.0, -1.2, -0.9, -1.1, -1.2, -1.0, -1.3,
        -1.1, -0.9, -1.2, -1.1, -1.0, -1.3, -1.1, -0.9, -1.2, -1.0,
        -1.1, -1.3, -1.0, -1.2, -1.1, -0.9, -1.2, -1.0, -1.1, -1.2,
        -1.0]
d7_k = [-1.1, -0.7, -1.5, -0.9, -1.3, -1.6, -0.9, -0.6, -1.3, -1.0,
        -1.5, -0.8, -1.1, -1.6, -0.9, -1.3, -0.6, -1.1, -1.5, -0.9,
        -1.3, -0.8, -1.6, -1.1, -0.9, -1.3, -0.6, -1.5, -1.1, -0.9,
        -1.6, -1.1, -0.8, -1.3, -0.9, -1.5, -1.1, -0.8, -1.3, -0.9,
        -1.1]
d8_r = [-1.0, -1.2, -0.9, -1.1, -0.8, -1.2, -1.0, -1.3, -0.9, -1.1,
        -1.0, -0.8, -1.2, -1.0, -1.1, -0.9, -1.3, -1.0, -0.8, -1.1,
        -1.0, -1.2, -0.9, -1.1, -1.0, -0.8, -1.2, -0.9, -1.1, -1.3,
        -1.0, -0.9, -1.1, -0.8, -1.2, -1.0, -0.9, -1.1, -1.0, -1.2,
        -0.9]
d8_c = [-0.9, -1.1, -1.0, -1.2, -0.9, -1.0, -1.3, -1.0, -1.1, -0.9,
        -1.2, -1.0, -1.1, -0.9, -1.2, -1.0, -0.8, -1.1, -1.0, -1.2,
        -0.9, -1.1, -1.0, -1.3, -0.9, -1.1, -1.0, -1.2, -0.9, -1.0,
        -1.1, -0.9, -1.2, -1.0, -1.1, -0.9, -1.2, -1.0, -0.8, -1.1,
        -1.0]
d8_m = [-1.1, -0.9, -1.2, -1.0, -1.1, -0.8, -1.2, -1.0, -0.9, -1.1,
        -1.0, -1.2, -0.9, -1.1, -1.0, -0.8, -1.1, -1.0, -1.2, -0.9,
        -1.1, -1.0, -0.8, -1.2, -1.0, -1.1, -0.9, -1.2, -1.0, -1.1,
        -0.9, -1.2, -1.0, -0.9, -1.1, -1.0, -1.2, -0.8, -1.0, -0.9,
        -0.8]
d8_y = [-1.0, -1.3, -1.1, -0.9, -1.2, -1.4, -1.0, -1.1, -1.3, -0.9,
        -1.1, -1.2, -1.0, -1.4, -1.1, -0.9, -1.2, -1.0, -1.3, -1.1,
        -0.9, -1.2, -1.1, -1.0, -1.3, -1.1, -0.9, -1.2, -1.0, -1.4,
        -1.1, -1.0, -1.2, -0.9, -1.1, -1.3, -1.0, -1.1, -0.9, -1.2,
        -1.0]
d8_k = [-1.0, -1.3, -0.7, -1.4, -0.9, -0.8, -1.6, -1.1, -0.6, -1.3,
        -1.0, -1.7, -0.8, -1.1, -1.4, -0.7, -1.8, -1.0, -1.3, -0.8,
        -1.6, -1.1, -0.7, -1.4, -1.0, -1.7, -0.8, -1.3, -1.0, -1.6,
        -1.1, -0.7, -1.4, -1.0, -1.3, -0.8, -1.6, -1.1, -0.9, -1.3,
        -0.8]
d8_g = [-0.8, -1.3, -0.6, -1.1, -0.8, -1.4, -0.6, -1.3, -1.0, -0.5,
        -1.1, -0.8, -1.6, -0.7, -1.3, -1.0, -0.5, -1.1, -1.8, -0.8,
        -1.3, -0.6, -1.1, -1.7, -0.8, -1.3, -0.6, -1.0, -1.5, -0.8,
        -1.1, -0.5, -1.3, -1.0, -1.6, -0.7, -1.1, -0.8, -1.3, -1.0,
        -0.7]

N_LABELS = [2, 3, 4, 5, 6, 7, 8]
c_series = [
    [("g", c2_g)],
    [("g", c3_g), ("r", c3_r)],
    [("g", c4_g), ("r", c4_r), ("c", c4_c)],
    [("g", c5_g), ("r", c5_r), ("c", c5_c), ("m", c5_m)],
    [("g", c6_g), ("r", c6_r), ("c", c6_c), ("m", c6_m), ("y", c6_y)],
    [("g", c7_g), ("r", c7_r), ("c", c7_c), ("m", c7_m), ("y", c7_y), ("k", c7_k)],
    [("r", c8_r), ("c", c8_c), ("m", c8_m), ("y", c8_y), ("k", c8_k), ("g", c8_g)],
]
d_series = [
    [("g", d2_g)],
    [("g", d3_g), ("r", d3_r)],
    [("g", d4_g), ("r", d4_r), ("c", d4_c)],
    [("g", d5_g), ("r", d5_r), ("c", d5_c), ("m", d5_m)],
    [("g", d6_g), ("r", d6_r), ("c", d6_c), ("m", d6_m), ("y", d6_y)],
    [("g", d7_g), ("r", d7_r), ("c", d7_c), ("m", d7_m), ("y", d7_y), ("k", d7_k)],
    [("r", d8_r), ("c", d8_c), ("m", d8_m), ("y", d8_y), ("k", d8_k), ("g", d8_g)],
]


def xp(p):
    return p / W


def yp(p):
    return 1 - p / H


fig = go.Figure()
layout = {}
annotations = []


def suffix(n):
    return "" if n == 1 else str(n)


def add_line(n, y, color, span, width=1.8):
    x = np.linspace(0, span, len(y))
    fig.add_trace(go.Scatter(x=x, y=y, mode="lines",
                             line=dict(color=COL[color], width=width),
                             xaxis="x" + suffix(n), yaxis="y" + suffix(n),
                             hoverinfo="skip", showlegend=False))


TICKFONT = dict(family=FONT, size=FS, color="black")
BASE = dict(showgrid=False, zeroline=False, showline=True, linecolor="black",
            linewidth=1, ticks="inside", ticklen=4, tickcolor="black",
            tickwidth=1, tickfont=TICKFONT, fixedrange=True)


def minus(v):
    return ("\u2212" + str(abs(v))) if v < 0 else str(v)


def set_axes(n, xdom, ydom, xr, yr, xt, yt, yside="left", ylabels=True, mirror=False):
    s = suffix(n)
    layout["xaxis" + s] = dict(BASE, domain=[xp(xdom[0]), xp(xdom[1])], range=xr,
                              anchor="y" + s, tickvals=xt, ticktext=[str(v) for v in xt],
                              ticklabelstandoff=3)
    layout["yaxis" + s] = dict(BASE, domain=[yp(ydom[1]), yp(ydom[0])], range=yr,
                              anchor="x" + s, side=yside, showticklabels=ylabels,
                              mirror="ticks" if mirror else False,
                              tickvals=yt, ticktext=[minus(v) for v in yt],
                              ticklabelstandoff=5)


# Panel a
set_axes(1, (67, 361), (10, 251), [0, 16], [-10.2, 14.1], [0, 4, 8, 12, 16], [-10, -5, 0, 5, 10])
add_line(1, a_blue_top, "b", 16)
for col, arr in [("y", a_y), ("c", a_c), ("m", a_m), ("k", a_k), ("g", a_g), ("b", a_b)]:
    add_line(1, arr, col, 16)
add_line(1, a_red, "r", 16)

# Panel b
set_axes(2, (484, 778), (7, 252), [0, 16], [-10.2, 14.0], [0, 4, 8, 12, 16], [-10, -5, 0, 5, 10])
add_line(2, b_red_top, "r", 16)
for col, arr in [("c", b_c), ("y", b_y), ("m", b_m), ("k", b_k), ("g", b_g), ("b", b_b)]:
    add_line(2, arr, col, 16)
add_line(2, b_blue_low, "b", 16)

# Panels c and d
c_bounds = [100, 180, 273, 367, 460, 553, 647, 740]
d_bounds = [100, 181, 274, 368, 462, 556, 650, 744]
panels = [(3, c_bounds, (337, 549), [-7, 5.2], 358, c_blue, c_series),
          (10, d_bounds, (634, 847), [-6.1, 5.05], 654, d_blue, d_series)]
for start, bounds, ydom, yr, ytitle, blue, series in panels:
    for k in range(7):
        n = start + k
        xr = [0, 4] if k == 0 else [-0.77, 4]
        if k == 0:
            set_axes(n, (bounds[0], bounds[1]), ydom, xr, yr, [0, 4], [-6, -4, -2, 0, 2, 4],
                     yside="left", ylabels=True, mirror=True)
        else:
            set_axes(n, (bounds[k], bounds[k + 1]), ydom, xr, yr, [0, 4], [-6, -4, -2, 0, 2, 4],
                     yside="right", ylabels=False)
        add_line(n, blue, "b", 4)
        for col, arr in series[k]:
            add_line(n, arr, col, 4)
        annotations.append(dict(x=xp((bounds[k] + bounds[k + 1]) / 2), y=yp(ytitle),
                                xref="paper", yref="paper", showarrow=False,
                                text="<i>N</i>=%d" % N_LABELS[k],
                                font=dict(family=FONT, size=FS, color="black"),
                                xanchor="center", yanchor="middle"))


def label(text, x, y, size=FS, angle=0, bold=False):
    annotations.append(dict(x=xp(x), y=yp(y), xref="paper", yref="paper",
                            text=("<b>%s</b>" % text) if bold else text,
                            showarrow=False, textangle=angle,
                            font=dict(family=FONT, size=size, color="black"),
                            xanchor="center", yanchor="middle"))


label("a", 7, 13, size=22, bold=True)
label("b", 427, 14, size=22, bold=True)
label("c", 47, 351, size=22, bold=True)
label("d", 48, 648, size=22, bold=True)
label("Noise power (dB)", 12, 128, angle=-90)
label("Noise power (dB)", 426, 128, angle=-90)
label("Noise power (dB)", 48, 444, angle=-90)
label("Noise power (dB)", 48, 741, angle=-90)
label("Time (ms)", 214, 293)
label("Time (ms)", 633, 293)
label("Time (ms)", 420, 594)
label("Time (ms)", 421, 891)

fig.update_layout(**layout)
fig.update_layout(width=W, height=H, margin=dict(l=0, r=0, t=0, b=0),
                  paper_bgcolor="white", plot_bgcolor="white",
                  showlegend=False, annotations=annotations,
                  font=dict(family=FONT, size=FS, color="black"))
fig.write_html("out.html", config={"displayModeBar": False, "staticPlot": True},
               post_script="document.body.style.margin='0px';document.body.style.overflow='hidden';")
